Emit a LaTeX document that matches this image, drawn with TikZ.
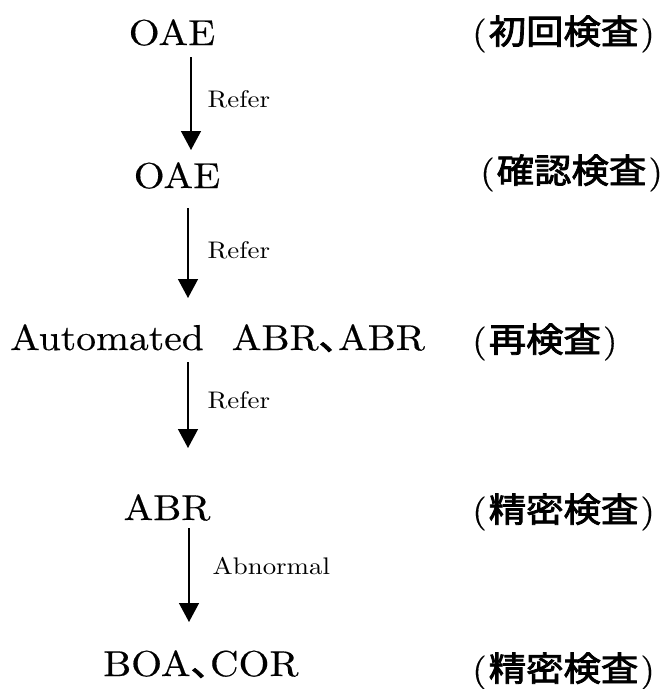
\documentclass[tikz,border=0pt]{standalone}
\usepackage{fontspec}
\usetikzlibrary{arrows.meta}
\newfontfamily\mainf{lmroman10-regular.otf}[FakeStretch=1.1, FakeBold=0.4]
\newfontfamily\lblf{lmroman10-regular.otf}[FakeStretch=1.12]
\newfontfamily\cjk{Noto Sans CJK JP}[FakeStretch=1.1, FakeBold=2.4]
\newcommand{\lp}{{\mainf\fontsize{34}{34}\selectfont(}\kern2pt}
\newcommand{\rp}{\kern2pt{\mainf\fontsize{34}{34}\selectfont)}}
\tikzset{
  main/.style={inner sep=0pt, anchor=base, font=\fontsize{36}{36}\selectfont\mainf},
  side/.style={inner sep=0pt, anchor=base west, font=\fontsize{34}{34}\selectfont\cjk},
  arr/.style={line width=1.4pt, -{Triangle[width=20pt,length=19pt]}},
  lbl/.style={inner sep=0pt, anchor=west, font=\fontsize{24}{24}\selectfont\lblf},
}
\newcommand{\tenten}{{\cjk\fontsize{34}{34}\selectfont 、}\kern-18pt}
\begin{document}
\begin{tikzpicture}[x=1pt,y=1pt]
\useasboundingbox (0,0) rectangle (665,-689);
% main column
\node[main] (oae1) at (172,-45) {OAE};
\node[main] (oae2) at (177,-188) {OAE};
\node[main, anchor=base west] (aabr) at (10,-350) {Automated\hspace{28pt}ABR\tenten ABR};
\node[main] (abr) at (167,-520) {ABR};
\node[main, anchor=base west] (boa) at (103,-676) {BOA\tenten COR};
% side column
\node[side] (s1) at (472,-44) {\lp 初回検査\rp};
\node[side] (s2) at (480,-183) {\lp 確認検査\rp};
\node[side] (s3) at (472,-352) {\lp 再検査\rp};
\node[side] (s4) at (472,-522) {\lp 精密検査\rp};
\node[side] (s5) at (472,-681) {\lp 精密検査\rp};
% arrow ends
\coordinate (t1) at (191,-57);  \coordinate (b1) at (191,-150);
\coordinate (t2) at (188,-208); \coordinate (b2) at (188,-298);
\coordinate (t3) at (188,-362); \coordinate (b3) at (188,-448);
\coordinate (t4) at (189,-528); \coordinate (b4) at (189,-622);
\draw[arr] (t1) -- node[lbl, pos=0.46, xshift=16pt] {Refer} (b1);
\draw[arr] (t2) -- node[lbl, pos=0.47, xshift=19pt] {Refer} (b2);
\draw[arr] (t3) -- node[lbl, pos=0.44, xshift=19pt] {Refer} (b3);
\draw[arr] (t4) -- node[lbl, pos=0.40, xshift=23pt] {Abnormal} (b4);
\end{tikzpicture}
\end{document}
